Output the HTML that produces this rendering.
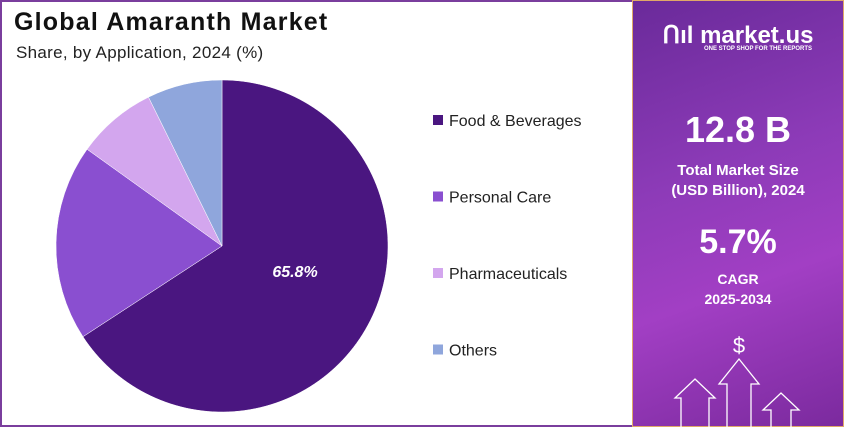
<!DOCTYPE html>
<html><head><meta charset="utf-8"><style>
body{margin:0;width:844px;height:427px;overflow:hidden;font-family:"Liberation Sans",sans-serif;background:#fff}
#left{position:absolute;left:0;top:0;width:630px;height:423px;border:2px solid #7a3e9d;background:#fff}
#right{position:absolute;left:632px;top:0;width:212px;height:427px;background:linear-gradient(160deg,#6a2a9a 0%,#8d3bb8 40%,#a23fc4 65%,#7b2a9e 100%);color:#fff;text-align:center;border:1px solid #e0a868;box-sizing:border-box}
.t{position:absolute;width:100%;font-weight:bold}
</style></head><body>
<div id="left">
<div style="position:absolute;left:12px;top:6px;font-size:25px;letter-spacing:1.2px;font-weight:bold;color:#111">Global Amaranth Market</div>
<div style="position:absolute;left:14px;top:41px;font-size:17px;letter-spacing:0.3px;color:#222">Share, by Application, 2024 (%)</div>
<svg id="pie" width="630" height="423" style="position:absolute;left:0;top:0"></svg>
</div>
<div id="right">
<div class="t" style="top:20px;font-size:24px">ᑎıl market.us</div>
<div class="t" style="top:45px;font-size:6px;left:20px">ONE STOP SHOP FOR THE REPORTS</div>
<div class="t" style="top:108px;font-size:36px">12.8 B</div>
<div class="t" style="top:160px;font-size:15px;line-height:20px">Total Market Size<br>(USD Billion), 2024</div>
<div class="t" style="top:222px;font-size:34px">5.7%</div>
<div class="t" style="top:268px;font-size:14px;line-height:20px">CAGR<br>2025-2034</div>
<svg width="212" height="100" style="position:absolute;left:0;top:327px" fill="none" stroke="#fff" stroke-width="1.3">
<text x="106" y="25" fill="#fff" stroke="none" font-size="22" text-anchor="middle">$</text>
<path d="M48 100V70H42L62 51L82 70H76V100"/><path d="M94 100V56H86L106 31L126 56H118V100"/><path d="M138 100V82H130L148 65L166 82H158V100"/>
</svg>
</div>
<script>
const categories=["Food & Beverages","Personal Care","Pharmaceuticals","Others"];
const shares=[65.8,19.1,7.8,7.3];
const colors=["#4a1680","#8a4fd0","#d3a6ee","#8fa6dc"];
const svg=document.getElementById('pie');const NS="http://www.w3.org/2000/svg";
const cx=220,cy=244,r=166;let a=0;const tot=shares.reduce((s,v)=>s+v,0);
function pt(t){return [cx+r*Math.sin(t),cy-r*Math.cos(t)];}
shares.forEach((v,i)=>{const a0=a,a1=a+v/tot*2*Math.PI;a=a1;const p0=pt(a0),p1=pt(a1);
const p=document.createElementNS(NS,'path');
p.setAttribute('d',`M${cx},${cy}L${p0[0]},${p0[1]}A${r},${r} 0 ${a1-a0>Math.PI?1:0} 1 ${p1[0]},${p1[1]}Z`);
p.setAttribute('fill',colors[i]);p.setAttribute('stroke','#fff');p.setAttribute('stroke-width','0.5');


svg.appendChild(p);
const ly=118+i*76.5;
const sq=document.createElementNS(NS,'rect');sq.setAttribute('x',431);sq.setAttribute('y',ly-5);sq.setAttribute('width',10);sq.setAttribute('height',10);sq.setAttribute('fill',colors[i]);


svg.appendChild(sq);
const tx=document.createElementNS(NS,'text');tx.setAttribute('x',447);tx.setAttribute('y',ly+6);tx.setAttribute('font-size','16');tx.setAttribute('fill','#222');tx.textContent=categories[i];


svg.appendChild(tx);});
const lab=document.createElementNS(NS,'text');lab.setAttribute('x',293);lab.setAttribute('y',275);lab.setAttribute('font-size','16');lab.setAttribute('font-weight','bold');lab.setAttribute('font-style','italic');lab.setAttribute('fill','#fff');lab.setAttribute('text-anchor','middle');lab.textContent=shares[0].toFixed(1)+'%';


svg.appendChild(lab);
</script>
</body></html>
